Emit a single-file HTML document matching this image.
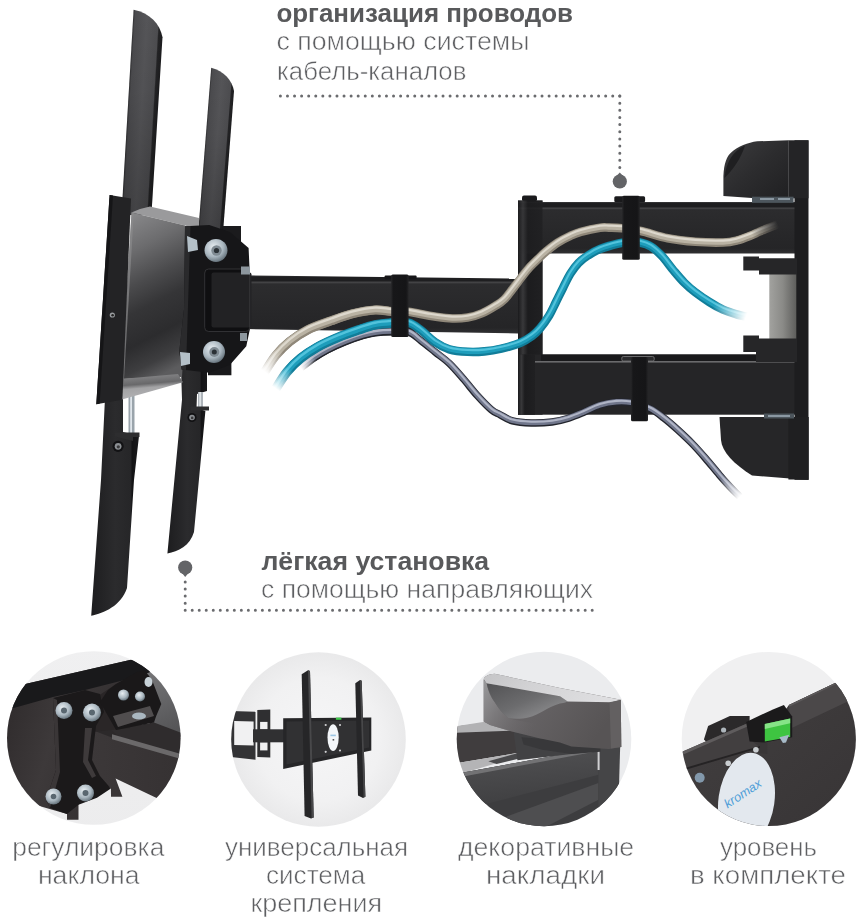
<!DOCTYPE html>
<html lang="ru">
<head>
<meta charset="utf-8">
<title>Кронштейн</title>
<style>
html,body{margin:0;padding:0;background:#fff;}
body{width:866px;height:923px;overflow:hidden;font-family:"Liberation Sans",sans-serif;}
svg{display:block;}
text{font-family:"Liberation Sans",sans-serif;}
</style>
</head>
<body>
<svg width="866" height="923" viewBox="0 0 866 923">
<defs>
  <filter id="noop" x="0" y="0" width="100%" height="100%" filterUnits="userSpaceOnUse" color-interpolation-filters="sRGB"><feOffset dx="0" dy="0"/></filter>
  <linearGradient id="gArm1" x1="0" y1="0" x2="1" y2="0">
    <stop offset="0" stop-color="#2c2c2e"/><stop offset="0.35" stop-color="#444447"/><stop offset="0.8" stop-color="#3a3a3d"/><stop offset="0.88" stop-color="#19191b"/><stop offset="1" stop-color="#141416"/>
  </linearGradient>
  <linearGradient id="gArm1u" gradientUnits="userSpaceOnUse" x1="133.6" y1="9.7" x2="164.25" y2="11.5"><stop offset="0" stop-color="#303032"/><stop offset="0.06" stop-color="#4b4b4e"/><stop offset="0.45" stop-color="#555558"/><stop offset="0.82" stop-color="#4d4d50"/><stop offset="0.86" stop-color="#242426"/><stop offset="1" stop-color="#1c1c1e"/></linearGradient>
  <linearGradient id="gArm2u" gradientUnits="userSpaceOnUse" x1="211.2" y1="67.7" x2="236.6" y2="69.7"><stop offset="0" stop-color="#303032"/><stop offset="0.06" stop-color="#4b4b4e"/><stop offset="0.45" stop-color="#555558"/><stop offset="0.82" stop-color="#4d4d50"/><stop offset="0.86" stop-color="#242426"/><stop offset="1" stop-color="#1c1c1e"/></linearGradient>
  <linearGradient id="gArmShade" gradientUnits="userSpaceOnUse" x1="0" y1="10" x2="0" y2="215"><stop offset="0" stop-color="#000" stop-opacity="0"/><stop offset="0.4" stop-color="#000" stop-opacity="0.04"/><stop offset="1" stop-color="#000" stop-opacity="0.22"/></linearGradient>
  <linearGradient id="gArmShade2" gradientUnits="userSpaceOnUse" x1="0" y1="68" x2="0" y2="232"><stop offset="0" stop-color="#000" stop-opacity="0"/><stop offset="0.4" stop-color="#000" stop-opacity="0.04"/><stop offset="1" stop-color="#000" stop-opacity="0.22"/></linearGradient>
  <linearGradient id="gArmLow" x1="0" y1="0" x2="1" y2="0">
    <stop offset="0" stop-color="#1d1d1f"/><stop offset="0.5" stop-color="#2b2b2d"/><stop offset="0.82" stop-color="#262628"/><stop offset="0.86" stop-color="#131315"/><stop offset="1" stop-color="#19191b"/>
  </linearGradient>
  <linearGradient id="gPlate" x1="0.3" y1="0" x2="0.5" y2="1">
    <stop offset="0" stop-color="#868688"/><stop offset="0.2" stop-color="#6c6c6e"/><stop offset="0.4" stop-color="#4b4b4d"/><stop offset="0.56" stop-color="#353537"/><stop offset="0.75" stop-color="#2c2c2e"/><stop offset="0.9" stop-color="#3e3e40"/><stop offset="1" stop-color="#5c5c5e"/>
  </linearGradient>
  <linearGradient id="gSilver" x1="0.2" y1="0" x2="0.4" y2="1">
    <stop offset="0" stop-color="#8c8c8e"/><stop offset="0.4" stop-color="#68686a"/><stop offset="0.55" stop-color="#a4a4a6"/><stop offset="1" stop-color="#b4b4b6"/>
  </linearGradient>
  <linearGradient id="gStrap" x1="0" y1="0" x2="1" y2="0">
    <stop offset="0" stop-color="#262628"/><stop offset="0.12" stop-color="#171719"/><stop offset="0.85" stop-color="#151517"/><stop offset="1" stop-color="#242426"/>
  </linearGradient>
  <linearGradient id="gHArm" x1="0" y1="0" x2="0" y2="1">
    <stop offset="0" stop-color="#3c3c3e"/><stop offset="0.03" stop-color="#1e1e20"/><stop offset="0.1" stop-color="#1e1e20"/><stop offset="0.115" stop-color="#4a4a4c"/><stop offset="0.15" stop-color="#2c2c2e"/><stop offset="0.9" stop-color="#252527"/><stop offset="1" stop-color="#303032"/>
  </linearGradient>
  <linearGradient id="gPost" x1="0" y1="0" x2="1" y2="0">
    <stop offset="0" stop-color="#1a1a1c"/><stop offset="0.2" stop-color="#38383a"/><stop offset="0.4" stop-color="#1c1c1e"/><stop offset="1" stop-color="#202022"/>
  </linearGradient>
  <linearGradient id="gCap" x1="0" y1="0" x2="1" y2="1">
    <stop offset="0" stop-color="#3c3c3e"/><stop offset="0.5" stop-color="#2c2c2e"/><stop offset="1" stop-color="#202022"/>
  </linearGradient>
  <linearGradient id="gSpacer" x1="0" y1="0" x2="1" y2="0">
    <stop offset="0" stop-color="#a2a29f"/><stop offset="0.5" stop-color="#8a8a87"/><stop offset="1" stop-color="#5e5e5c"/>
  </linearGradient>
  <radialGradient id="gBolt" cx="0.4" cy="0.35" r="0.7">
    <stop offset="0" stop-color="#e8eef2"/><stop offset="0.6" stop-color="#a9b6bf"/><stop offset="1" stop-color="#5d6a73"/>
  </radialGradient>
  <!-- cable fades -->
  <linearGradient id="fadeL" gradientUnits="userSpaceOnUse" x1="268" y1="385" x2="300" y2="345">
    <stop offset="0" stop-color="#000"/><stop offset="1" stop-color="#000" stop-opacity="0"/>
  </linearGradient>
  <linearGradient id="fadeT" gradientUnits="userSpaceOnUse" x1="712" y1="300" x2="748" y2="318">
    <stop offset="0" stop-color="#000" stop-opacity="0"/><stop offset="1" stop-color="#000"/>
  </linearGradient>
  <linearGradient id="fadeG" gradientUnits="userSpaceOnUse" x1="715" y1="462" x2="742" y2="498">
    <stop offset="0" stop-color="#000" stop-opacity="0"/><stop offset="1" stop-color="#000"/>
  </linearGradient>
  <linearGradient id="fadeB" gradientUnits="userSpaceOnUse" x1="750" y1="240" x2="778" y2="224">
    <stop offset="0" stop-color="#000" stop-opacity="0"/><stop offset="1" stop-color="#000"/>
  </linearGradient>
</defs>

<rect width="866" height="923" fill="#fff"/>

<!-- ================= MAIN PHOTO ================= -->
<g id="photo">


<!-- upper arm + post + lower arm -->
<g id="arms">
  <rect x="518" y="200.5" width="24.5" height="214" fill="url(#gPost)"/>
  <rect x="522" y="195.5" width="15" height="6" rx="2" fill="#1a1a1c"/>
  <rect x="518" y="202" width="278" height="51.5" fill="url(#gHArm)"/>
  <rect x="518" y="200.5" width="24.5" height="214" fill="url(#gPost)" opacity="0.85"/>
  <!-- lower arm -->
  <rect x="518" y="354.5" width="278" height="60.2" fill="#252527"/>
  <rect x="541" y="354.5" width="255" height="7" fill="#19191b"/>
  <rect x="535" y="361" width="261" height="1.6" fill="#6a6a6c"/>
  <rect x="518" y="354.5" width="17" height="60.2" fill="url(#gPost)"/>
  <!-- middle arm -->
  <path d="M246,275.3 L518,278.5 L518,333.5 L246,329 Z" fill="url(#gHArm)"/>
</g>

<!-- CABLES -->
<defs>
  <path id="pGray" d="M297.0,371.5 C297.6,370.9 298.0,370.1 300.7,367.9 C303.4,365.7 308.8,361.2 313.2,358.2 C317.6,355.2 321.7,352.7 327.0,349.9 C332.3,347.1 339.1,344.0 345.1,341.6 C351.1,339.2 358.1,336.8 363.1,335.3 C368.1,333.8 370.2,333.2 375.0,332.6 C379.8,332.0 386.4,331.6 392.0,331.5 C397.6,331.4 403.6,330.3 408.5,331.9 C413.4,333.4 416.7,337.4 421.1,340.8 C425.6,344.2 430.5,348.3 435.2,352.1 C439.9,355.9 444.6,358.9 449.3,363.4 C454.0,367.9 458.7,373.5 463.4,378.9 C468.1,384.3 472.8,390.6 477.5,395.8 C482.2,401.0 487.8,406.8 491.5,409.9 C495.2,413.0 496.5,412.9 500.0,414.7 C503.5,416.5 507.3,419.5 512.5,420.9 C517.7,422.3 524.6,422.8 531.2,423.0 C537.8,423.2 545.8,422.8 552.0,422.0 C558.2,421.2 563.4,419.8 568.6,418.2 C573.8,416.6 577.9,414.8 583.1,412.6 C588.3,410.5 594.2,407.0 599.8,405.3 C605.3,403.6 611.2,402.6 616.4,402.2 C621.6,401.8 625.5,401.8 631.0,402.8 C636.5,403.9 644.2,406.0 649.7,408.5 C655.2,411.0 659.2,414.4 663.9,418.0 C668.6,421.6 673.1,425.6 677.7,429.8 C682.3,434.0 687.0,438.3 691.6,443.0 C696.2,447.7 700.8,452.9 705.4,458.2 C710.0,463.5 715.1,469.9 719.3,474.8 C723.5,479.7 727.2,483.8 730.4,487.3 C733.6,490.8 736.4,493.3 738.7,495.6 C741.0,497.9 743.1,500.1 744.0,501.0"/>
  <path id="pTeal" d="M274.0,392.0 C274.3,391.4 273.7,392.0 275.8,388.7 C277.9,385.4 282.8,377.1 286.9,372.0 C291.0,366.9 295.6,362.3 300.7,358.2 C305.8,354.1 311.2,350.6 317.4,347.1 C323.6,343.6 331.2,340.3 338.1,337.4 C345.0,334.5 352.8,331.9 358.9,329.8 C365.0,327.7 369.5,326.0 375.0,324.9 C380.5,323.8 386.4,323.4 392.0,323.0 C397.6,322.6 403.6,321.6 408.5,322.8 C413.4,324.0 416.7,327.1 421.1,330.3 C425.6,333.6 430.5,339.1 435.2,342.3 C439.9,345.5 443.9,347.7 449.3,349.3 C454.7,350.9 461.7,351.5 467.6,351.8 C473.5,352.1 478.9,351.9 484.5,351.4 C490.1,350.9 495.5,350.0 501.4,348.6 C507.3,347.2 514.9,345.1 520.0,343.0 C525.1,340.9 528.7,338.4 532.0,336.0 C535.3,333.6 537.1,331.8 540.0,328.4 C542.9,325.0 546.5,319.8 549.2,315.4 C551.9,311.0 553.7,306.6 556.0,302.0 C558.3,297.4 560.7,292.4 563.1,287.7 C565.5,282.9 567.9,277.6 570.5,273.5 C573.1,269.4 575.6,266.0 578.5,263.0 C581.4,260.0 584.4,257.8 588.0,255.5 C591.6,253.2 594.9,251.0 600.0,249.0 C605.1,247.0 613.4,244.7 618.4,243.5 C623.4,242.3 626.4,242.2 630.0,242.0 C633.6,241.8 636.5,241.7 640.0,242.5 C643.5,243.3 647.4,244.3 651.1,246.6 C654.8,248.9 658.5,252.4 662.2,256.3 C665.9,260.2 669.6,265.8 673.3,270.2 C677.0,274.6 680.6,279.0 684.3,282.7 C688.0,286.4 691.2,289.2 695.4,292.4 C699.6,295.6 704.7,299.1 709.3,302.0 C713.9,304.9 718.5,307.6 723.1,309.7 C727.7,311.8 732.9,313.3 737.0,314.5 C741.1,315.7 746.2,316.6 748.0,317.0"/>
  <path id="pBeige" d="M262.0,376.0 C262.4,375.3 262.4,375.4 264.7,372.0 C267.0,368.6 271.6,360.5 275.8,355.4 C280.0,350.3 284.3,345.9 289.6,341.6 C294.9,337.3 300.8,333.3 307.7,329.8 C314.6,326.3 323.8,323.5 331.2,320.8 C338.6,318.1 344.7,315.7 352.0,313.9 C359.3,312.1 368.3,310.4 375.0,310.0 C381.7,309.6 386.4,311.2 392.0,311.5 C397.6,311.8 402.5,311.1 408.5,311.8 C414.5,312.5 421.4,314.4 428.2,315.5 C435.0,316.6 442.7,317.9 449.3,318.3 C455.9,318.7 462.2,318.4 467.6,317.6 C473.0,316.8 477.0,315.4 481.7,313.4 C486.4,311.4 492.1,307.9 495.8,305.6 C499.6,303.3 501.3,302.4 504.2,299.5 C507.1,296.6 510.2,292.1 513.0,288.5 C515.8,284.9 518.4,281.4 521.0,278.0 C523.6,274.6 526.0,271.3 528.9,268.1 C531.8,264.9 535.2,261.7 538.1,258.9 C541.0,256.1 542.9,254.1 546.2,251.4 C549.5,248.7 553.9,245.2 557.7,242.7 C561.6,240.2 565.4,238.2 569.3,236.4 C573.1,234.6 575.7,233.2 580.8,231.8 C585.9,230.4 595.3,228.4 600.0,227.7 C604.7,227.0 605.3,227.5 609.0,227.6 C612.7,227.7 616.7,227.6 622.0,228.2 C627.3,228.8 633.4,229.3 641.0,231.0 C648.6,232.7 658.6,236.5 667.7,238.3 C676.8,240.1 686.2,241.1 695.4,241.8 C704.6,242.5 716.2,242.7 723.1,242.5 C730.0,242.3 732.4,241.6 737.0,240.4 C741.6,239.2 747.0,237.0 750.8,235.5 C754.6,234.0 756.0,233.1 760.0,231.4 C764.0,229.7 771.7,226.8 775.0,225.4 C778.3,224.0 779.2,223.4 780.0,223.0"/>
  <clipPath id="clipThick"><rect x="240" y="290" width="160" height="120"/></clipPath>
  <linearGradient id="fGrayL" gradientUnits="userSpaceOnUse" x1="300.7" y1="367.9" x2="314.6" y2="356.8"><stop offset="0" stop-color="#000"/><stop offset="1" stop-color="#000" stop-opacity="0"/></linearGradient>
  <linearGradient id="fGrayR" gradientUnits="userSpaceOnUse" x1="740" y1="497" x2="722" y2="477"><stop offset="0" stop-color="#000"/><stop offset="1" stop-color="#000" stop-opacity="0"/></linearGradient>
  <linearGradient id="fTealL" gradientUnits="userSpaceOnUse" x1="275.8" y1="388.7" x2="290" y2="368.5"><stop offset="0" stop-color="#000"/><stop offset="1" stop-color="#000" stop-opacity="0"/></linearGradient>
  <linearGradient id="fTealR" gradientUnits="userSpaceOnUse" x1="746" y1="317" x2="714" y2="304.5"><stop offset="0" stop-color="#000"/><stop offset="1" stop-color="#000" stop-opacity="0"/></linearGradient>
  <linearGradient id="fBeigeL" gradientUnits="userSpaceOnUse" x1="264.7" y1="372" x2="280" y2="350"><stop offset="0" stop-color="#000"/><stop offset="1" stop-color="#000" stop-opacity="0"/></linearGradient>
  <linearGradient id="fBeigeR" gradientUnits="userSpaceOnUse" x1="778" y1="224" x2="752" y2="235"><stop offset="0" stop-color="#000"/><stop offset="1" stop-color="#000" stop-opacity="0"/></linearGradient>
  <mask id="mGray" maskUnits="userSpaceOnUse" x="0" y="0" width="866" height="923"><rect width="866" height="923" fill="#fff"/><rect x="280" y="350" width="40" height="40" fill="url(#fGrayL)"/><rect x="700" y="455" width="70" height="70" fill="url(#fGrayR)"/></mask>
  <mask id="mTeal" maskUnits="userSpaceOnUse" x="0" y="0" width="866" height="923"><rect width="866" height="923" fill="#fff"/><rect x="255" y="355" width="45" height="50" fill="url(#fTealL)"/><rect x="700" y="290" width="70" height="45" fill="url(#fTealR)"/></mask>
  <mask id="mBeige" maskUnits="userSpaceOnUse" x="0" y="0" width="866" height="923"><rect width="866" height="923" fill="#fff"/><rect x="245" y="340" width="45" height="50" fill="url(#fBeigeL)"/><rect x="745" y="205" width="50" height="45" fill="url(#fBeigeR)"/></mask>
</defs>
<g id="cables" fill="none" stroke-linecap="butt" stroke-linejoin="round">
  <g mask="url(#mGray)">
  <use href="#pGray" stroke="#23252d" stroke-width="7.4"/>
  <use href="#pGray" stroke="#70768b" stroke-width="5.4" transform="translate(0,-0.4)"/>
  <use href="#pGray" stroke="#b0b5c6" stroke-width="2.1" transform="translate(0,-1.3)"/>
  <g clip-path="url(#clipThick)">
  <use href="#pGray" stroke="#23252d" stroke-width="7.8"/>
  <use href="#pGray" stroke="#70768b" stroke-width="5.7" transform="translate(0,-0.5)"/>
  <use href="#pGray" stroke="#b0b5c6" stroke-width="2.3" transform="translate(0,-1.6)"/>
  </g>
  </g>
  <g mask="url(#mTeal)">
  <use href="#pTeal" stroke="#117d99" stroke-width="8.6"/>
  <use href="#pTeal" stroke="#1e9dbb" stroke-width="5.8" transform="translate(0,-0.8)"/>
  <use href="#pTeal" stroke="#52c3dc" stroke-width="2.1" transform="translate(0,-1.8)"/>
  <g clip-path="url(#clipThick)">
  <use href="#pTeal" stroke="#117d99" stroke-width="9.6"/>
  <use href="#pTeal" stroke="#1e9dbb" stroke-width="6.5" transform="translate(0,-1.0)"/>
  <use href="#pTeal" stroke="#52c3dc" stroke-width="2.4" transform="translate(0,-2.2)"/>
  </g>
  </g>
  <g mask="url(#mBeige)">
  <use href="#pBeige" stroke="#8f8779" stroke-width="8.6"/>
  <use href="#pBeige" stroke="#b9b2a3" stroke-width="5.9" transform="translate(0,-0.8)"/>
  <use href="#pBeige" stroke="#ddd8cd" stroke-width="2.1" transform="translate(0,-1.9)"/>
  <g clip-path="url(#clipThick)">
  <use href="#pBeige" stroke="#8f8779" stroke-width="9.2"/>
  <use href="#pBeige" stroke="#b9b2a3" stroke-width="6.4" transform="translate(0,-1.0)"/>
  <use href="#pBeige" stroke="#ddd8cd" stroke-width="2.3" transform="translate(0,-2.3)"/>
  </g>
  </g>
</g>
<!-- re-draw bits that sit in front of cables -->
<g id="straps">
  <rect x="384.6" y="275.6" width="32" height="3.6" rx="1" fill="#161618"/>
  <rect x="614.3" y="196.2" width="30.8" height="6" rx="1.5" fill="#1a1a1c"/>
  <rect x="621.8" y="356.5" width="32.4" height="4.6" rx="1.5" fill="#2a2a2c" stroke="#7d7d7f" stroke-width="0.8"/>
  <rect x="391.2" y="274.5" width="17.4" height="62.4" rx="1.5" fill="url(#gStrap)"/>
  <rect x="622.2" y="195.8" width="17.6" height="64" rx="1.5" fill="url(#gStrap)"/>
  <rect x="631" y="357" width="17" height="64.3" rx="1.5" fill="url(#gStrap)"/>
</g>

<!-- wall plate & caps (right) -->
<g id="wall">
  <rect x="794.5" y="140.3" width="14" height="339.5" fill="#1d1d1f"/>
  <rect x="788.4" y="140.3" width="20.1" height="58" fill="#242426"/>
  <path d="M723.4,196 L723.4,176 C724,163 727,156 731.2,152.5 C738,146.5 748,142.6 757.2,141.3 L788.6,140.3 L788.6,198 L752,198 Z" fill="url(#gCap)"/>
  <path d="M745,145.5 C733,151 726,162 724.5,178 C733,170 741,158 745,145.5 Z" fill="#1f1f21"/>
  <rect x="752" y="196.7" width="41.6" height="6.1" fill="#4d565d"/>
  <rect x="760" y="198" width="14" height="2" fill="#8b98a2"/>
  <rect x="778" y="198" width="12" height="2" fill="#8b98a2"/>
  <!-- lower bracket tabs + spacer -->
  <rect x="769.3" y="270" width="27" height="70" fill="url(#gSpacer)"/>
  <path d="M743.3,256.5 H759 V258.2 H797 V274.5 H759 V270.4 H743.3 Z" fill="#262628"/>
  <path d="M743.3,335.5 H759 V338.5 H797 V362 H756 V352 H743.3 Z" fill="#262628"/>
  <!-- bottom cap -->
  <path d="M719.5,417 L808.5,417 L808.5,480 L752,475.5 C734,464 722,452 721,440 Z" fill="#262628"/>
  <rect x="788.4" y="417" width="20.1" height="62.5" fill="#1f1f21"/>
  <rect x="764" y="413.5" width="30" height="5" fill="#4d565d"/>
  <rect x="768" y="415" width="22" height="2" fill="#8b98a2"/>
</g>

<!-- LEFT ASSEMBLY -->
<g id="left">
  <!-- arm 1 upper -->
  <path d="M133.6,9.7 C150,13 160,24 162.5,37.2 L151.4,215 L121.5,215 Z" fill="url(#gArm1u)"/>
  <path d="M133.6,9.7 C150,13 160,24 162.5,37.2 L151.4,215 L121.5,215 Z" fill="url(#gArmShade)"/>
  <!-- arm 2 upper -->
  <path d="M211.2,67.7 C224,71 232,80 234,91 L223,232 L198.2,232 Z" fill="url(#gArm2u)"/>
  <path d="M211.2,67.7 C224,71 232,80 234,91 L223,232 L198.2,232 Z" fill="url(#gArmShade2)"/>
  <!-- arm 1 lower -->
  <path d="M105,398 L123,398 L123,432 L139,436 L134,480 L127,588 C121,606 104,613 91.2,615.8 L101,480 Z" fill="url(#gArmLow)"/>
  <rect x="128.5" y="388" width="6" height="45" fill="#9aa4ab"/>
  <rect x="130.2" y="388" width="1.8" height="45" fill="#dfe5ea"/>
  <path d="M115,432.5 L139.5,432.5 L139.5,437 L133,437 L133,441 L115,436.5 Z" fill="#2d2d2f"/>
  <circle cx="118.1" cy="446.3" r="5.6" fill="#121214"/><circle cx="118.1" cy="446.3" r="3.4" fill="#8b8f93"/><circle cx="118.3" cy="446.8" r="1.6" fill="#3a3a3c"/>
  <!-- arm 2 lower -->
  <path d="M181,368 L207,368 L207,391 L197,394 L196.5,408 L205.4,411 L194,532 C190,546 178,551.5 167.4,553.4 L182,399.7 Z" fill="url(#gArmLow)"/>
  <rect x="198" y="392" width="5" height="16" fill="#aeb4ba"/>
  <rect x="199.3" y="392" width="1.6" height="16" fill="#e4e8ec"/>
  <path d="M190.5,406.5 L209,406.5 L209,410.5 L190.5,410.5 Z" fill="#2d2d2f"/>
  <circle cx="192" cy="417.5" r="4.6" fill="#121214"/><circle cx="192" cy="417.5" r="2.8" fill="#8b8f93"/><circle cx="192.2" cy="417.9" r="1.3" fill="#3a3a3c"/>
  <!-- plate -->
  <path d="M140,209 L150,206.5 L199,218 L199,229 L185,225.5 L131.5,212.5 Z" fill="#9a9a9c"/>
  <path d="M131.5,212.5 L185,225.5 L186,309 L182,377 L121.5,379 Z" fill="url(#gPlate)"/>
  <path d="M131.5,212.5 L133.8,213 L124,379 L121.5,379 Z" fill="#8a8a8c" opacity="0.7"/>
  <path d="M121,379 L178,374 L183,382.2 L120.2,400 Z" fill="url(#gSilver)"/>
  <!-- black frame -->
  <path d="M109.6,195 L131,198.5 L122.4,399.7 L96.3,404.3 Z" fill="#232325"/>
  <path d="M109.6,195 L113,195.6 L99.6,403.7 L96.3,404.3 Z" fill="#151517"/>
  <circle cx="112.3" cy="315" r="2.6" fill="#9a9da0"/><circle cx="112.6" cy="315.2" r="1.3" fill="#222"/>
  <!-- bracket -->
  <path d="M222.5,226 L241,226 L241,246 L222.5,236 Z" fill="#1b1b1d"/>
  <path d="M208,368 L231.4,361 L231.4,375.3 L208,375.3 Z" fill="#19191b"/>
  <path d="M185,226.2 L209.3,225 L230,232 L248.6,248 L249.7,272.4 L249.7,330 L246.3,346.3 L230,364.8 L209.3,372.8 L181.6,369.4 L179.3,351 L184,309.3 Z" fill="#161618"/>
  <path d="M185,226.2 L190.5,226 L186,369.9 L181.6,369.4 L179.3,351 L184,309.3 Z" fill="#2a2a2c"/>
  <rect x="204.7" y="269" width="45" height="62.5" rx="4" fill="#0f0f11"/>
  <rect x="211.5" y="272.5" width="40" height="55" rx="2" fill="#222224"/>
  <rect x="204.7" y="269" width="45" height="62.5" rx="4" fill="none" stroke="#3a3a3c" stroke-width="0.8"/>
  <rect x="241" y="266.5" width="9" height="8" fill="#8d979e"/>
  <rect x="240" y="333" width="7" height="8" fill="#8d979e"/>
  <!-- bolts -->
  <circle cx="216" cy="250.4" r="11.5" fill="url(#gBolt)"/><circle cx="216.5" cy="250.5" r="5.2" fill="#7f8a92"/><circle cx="216.5" cy="250.5" r="2.6" fill="#2b3136"/>
  <circle cx="214" cy="352" r="11" fill="url(#gBolt)"/><circle cx="214.3" cy="352" r="5" fill="#7f8a92"/><circle cx="214.3" cy="352" r="2.5" fill="#2b3136"/>
  <path d="M187,236 L197,240 L198,250 L188,252 Z" fill="#b4c0c8"/>
  <path d="M180,352 L190,353 L190,364 L181,366 Z" fill="#b4c0c8"/>
</g>

</g>

<!-- ================= CALLOUTS ================= -->
<g id="callouts" fill="#6d6e71">
  <g id="dots1" fill="none" stroke="#6a6b6e" stroke-width="3" stroke-linecap="round">
    <path d="M280.4,96 L619.8,96" stroke-dasharray="0 7.0708"/>
    <path d="M619.8,96 L619.8,168" stroke-dasharray="0 7.15"/>
    <path d="M185.2,581.9 L185.2,610.2" stroke-dasharray="0 7.075"/>
    <path d="M185.2,610.2 L592.2,610.2" stroke-dasharray="0 7.0172"/>
  </g>
  <circle cx="619.8" cy="181.5" r="7.1" fill="#636467"/>
  <path d="M616.3,176.2 L619.8,172.6 L623.3,176.2 Z" fill="#636467"/>
  <circle cx="185.2" cy="567.5" r="7.1" fill="#636467"/>
  <path d="M182,573 L185.2,577 L188.4,573 Z" fill="#636467"/>
</g>

<!-- ================= DETAIL CIRCLES ================= -->
<defs>
  <clipPath id="c1"><circle cx="93.8" cy="738" r="86.8"/></clipPath>
  <clipPath id="c2"><circle cx="318.5" cy="739.5" r="87.3"/></clipPath>
  <clipPath id="c3"><circle cx="544" cy="739" r="87.3"/></clipPath>
  <clipPath id="c4"><circle cx="768.8" cy="739" r="87.1"/></clipPath>
  <radialGradient id="gCirc2" gradientUnits="userSpaceOnUse" cx="318.5" cy="739.5" r="88">
    <stop offset="0" stop-color="#f6f6f7"/><stop offset="0.7" stop-color="#f1f1f2"/><stop offset="1" stop-color="#e9e9ea"/>
  </radialGradient>
  <linearGradient id="g1arm" x1="0" y1="0" x2="1" y2="0">
    <stop offset="0" stop-color="#3c3839"/><stop offset="1" stop-color="#353132"/>
  </linearGradient>
  <linearGradient id="g1wall" x1="0" y1="0" x2="0.3" y2="1">
    <stop offset="0" stop-color="#7e7e80"/><stop offset="1" stop-color="#555557"/>
  </linearGradient>
  <linearGradient id="gCirc1" x1="0" y1="0" x2="0" y2="1">
    <stop offset="0" stop-color="#f0f0f1"/><stop offset="1" stop-color="#ececed"/>
  </linearGradient>
  <linearGradient id="g1bg" x1="0" y1="0" x2="1" y2="0.3">
    <stop offset="0" stop-color="#2b2728"/><stop offset="0.45" stop-color="#3d393a"/><stop offset="1" stop-color="#2f2b2c"/>
  </linearGradient>
  <linearGradient id="g3cap" x1="0" y1="0" x2="1" y2="0.2">
    <stop offset="0" stop-color="#c4c4c6"/><stop offset="0.4" stop-color="#d2d2d4"/><stop offset="1" stop-color="#dedee0"/>
  </linearGradient>
  <linearGradient id="g3face" x1="0" y1="0" x2="1" y2="0.4">
    <stop offset="0" stop-color="#767476"/><stop offset="0.4" stop-color="#676466"/><stop offset="1" stop-color="#575455"/>
  </linearGradient>
  <linearGradient id="g3lit" x1="0" y1="0" x2="1" y2="0.5">
    <stop offset="0" stop-color="#9a9a9c"/><stop offset="0.35" stop-color="#7c7a7c" stop-opacity="0.9"/><stop offset="0.85" stop-color="#676466" stop-opacity="0"/><stop offset="1" stop-color="#676466" stop-opacity="0"/>
  </linearGradient>
  <linearGradient id="g3scoop" x1="0" y1="0" x2="1" y2="1">
    <stop offset="0" stop-color="#525254"/><stop offset="0.5" stop-color="#6c6c6e"/><stop offset="1" stop-color="#9a9a9c"/>
  </linearGradient>
  <linearGradient id="g3arm" x1="0" y1="0" x2="0.2" y2="1">
    <stop offset="0" stop-color="#525254"/><stop offset="1" stop-color="#404042"/>
  </linearGradient>
  <linearGradient id="g4plate" x1="0" y1="0" x2="1" y2="1">
    <stop offset="0" stop-color="#434041"/><stop offset="1" stop-color="#373435"/>
  </linearGradient>
</defs>

<!-- circle 1 -->
<g clip-path="url(#c1)">
  <rect x="0" y="640" width="190" height="200" fill="url(#gCirc1)"/>
  <!-- gray wall to the right of back bracket -->
  <path d="M138,656 L190,656 L190,740 L150,725 L150,680 Z" fill="url(#g1wall)"/>
  <!-- arm -->
  <path d="M90,722 L128,722 L128,744 L90,744 Z" fill="#2c292a"/>
  <path d="M110,729 L154,722.6 L190,736 L190,760 L124,741 Z" fill="#2f2c2d"/>
  <path d="M113,738 L190,760 L190,810 L156.1,797.7 L115.6,778.5 L122.4,796.7 L111,796.7 L110.9,788.6 L96,776 L88,760 L92,730 Z" fill="url(#g1arm)"/>
  <path d="M112,734.2 L190,756.5 L190,761.5 L112,739.2 Z" fill="#6b696a"/>
  <path d="M85,688 L120,680 L130,728 L92,732 Z" fill="#2a2627"/>
  <!-- dark main body (left plate) -->
  <path d="M0,690 L23,684.6 L138.6,658 L150,672 L116,684 L92,700 L92,760 L78.5,804.7 L78.5,819.8 L67,819.8 L67,814 L39.3,805.9 L0,790 Z" fill="url(#g1bg)"/>
  <!-- black top bar -->
  <path d="M0,690 L23,684.6 L138.6,658 L150,672 L140,676 L85,690 L53,697 L10,709 L0,712 Z" fill="#19191b"/>
  <!-- bracket -->
  <path d="M53,698 L85,690 L100,694 L104,712 L96,726 L92,760 L100,776 L110.9,788.6 L97,797.8 L78.5,804.7 L67,814 L50,808 L46,800 L56,770 Z" fill="#1b191a"/>
  <path d="M53,698 L56,770 L46,800 L50,808 L60,772 L57,700 Z" fill="#3a3637"/>
  <path d="M85,728 L92,728 L88,760 L96,776 L92,778 L83,762 Z" fill="#3e3a3b"/>
  <!-- back bracket -->
  <path d="M116,684 L137,672 L145,670.5 L152,680 L161.3,703.9 L156.1,716.3 L154,722.6 L116,730 L100,702 L108,690 Z" fill="#1a1819"/>
  <path d="M113,716 L150,706 L154,716 L118,727 Z" fill="#504d4e"/>
  <!-- bolts -->
  <circle cx="64" cy="710.5" r="8.5" fill="url(#gBolt)"/><circle cx="64" cy="710.5" r="3" fill="#5a6770"/>
  <circle cx="92" cy="712.5" r="9" fill="url(#gBolt)"/><circle cx="92" cy="712.5" r="3" fill="#5a6770"/>
  <circle cx="53.5" cy="796.5" r="8" fill="url(#gBolt)"/><circle cx="53.5" cy="796.5" r="2.8" fill="#5a6770"/>
  <circle cx="85.5" cy="793" r="8.5" fill="url(#gBolt)"/><circle cx="85.5" cy="793" r="3" fill="#5a6770"/>
  <circle cx="123.5" cy="695" r="5.5" fill="url(#gBolt)"/>
  <circle cx="140" cy="696.5" r="5" fill="url(#gBolt)"/>
  <ellipse cx="139" cy="716" rx="7" ry="3.6" fill="#aab7c0"/>
  <ellipse cx="148.5" cy="682" rx="4" ry="5" fill="#c8d2d8"/>
</g>

<!-- circle 2 -->
<g clip-path="url(#c2)">
  <rect x="225" y="645" width="190" height="190" fill="url(#gCirc2)"/>
  <!-- arm (left) -->
  <path d="M231,711 L255.5,711.8 L255.5,759.8 L231,757 Z" fill="#333335"/>
  <path d="M234.2,721 L253.6,721.5 L253.6,745.5 L234.2,745 Z" fill="#f1f1f2"/>
  <path d="M257.3,710 L270.3,709.5 L270.3,757.5 L257.3,757 Z" fill="#2f2f31"/>
  <rect x="260.1" y="721.9" width="7.4" height="7.4" fill="#f1f1f2"/>
  <rect x="260.1" y="742.4" width="7.4" height="8" fill="#f1f1f2"/>
  <rect x="253" y="729.3" width="31" height="13" fill="#303032"/>
  <!-- main plate -->
  <path d="M283.2,718.2 L371.3,717.4 L371.3,750.5 L283.2,769 Z" fill="#262628"/>
  <path d="M286.5,721.5 L369,720.6 L369,747.5 L286.5,764.5 Z" fill="#313133"/>
  <!-- vertical bars -->
  <path d="M301.7,674.2 L308,670.3 L310,671 L313.7,817.5 L311,818.5 L304.6,816 Z" fill="#262628"/>
  <path d="M308,670.3 L310,671 L313.7,817.5 L311.6,818.2 Z" fill="#48484a"/>
  <path d="M355.3,683.3 L360,680 L361.7,680.7 L365.4,796.8 L363,798 L358,795.5 Z" fill="#262628"/>
  <path d="M360,680 L361.7,680.7 L365.4,796.8 L363.6,797.6 Z" fill="#48484a"/>
  <!-- vesa disc -->
  <ellipse cx="333.1" cy="737.6" rx="5.6" ry="13.3" fill="#f3f6f9"/>
  <rect x="330.4" y="734.6" width="5.4" height="1.6" fill="#9cc6e4"/>
  <rect x="332.6" y="739" width="1.6" height="1.6" fill="#555"/>
  <circle cx="325.7" cy="725" r="1.1" fill="#d0d0d2"/><circle cx="340" cy="725" r="1.1" fill="#d0d0d2"/>
  <circle cx="325.7" cy="751.8" r="1.1" fill="#d0d0d2"/><circle cx="340" cy="750.5" r="1.1" fill="#d0d0d2"/>
  <rect x="335.9" y="717.6" width="5.5" height="2.2" fill="#3fc94c"/>
</g>

<!-- circle 3 -->
<g clip-path="url(#c3)">
  <rect x="450" y="645" width="190" height="190" fill="#ebecee"/>
  <!-- back arm -->
  <path d="M455.0,726.5 L486.2,722.7 L517.4,729.0 L517.4,752.9 L455.0,763.3 Z" fill="#403d3e"/>
  <path d="M455.0,726.5 L486.2,721.5 L517.4,728.6 L517.4,730.6 L455.0,732.7 Z" fill="#b2b2b4"/>
  <!-- gap between arms -->
  <path d="M455.0,763.3 L517.4,752.9 L517.4,758.1 L496.6,763.3 L463.3,773.1 L455.0,774.7 Z" fill="#b4b4b6"/>
  <path d="M488.3,761.2 L517.4,753.3 L521.5,758.1 L496.6,763.9 Z" fill="#4a4a4c"/>
  <!-- lower dark area -->
  <path d="M463.3,772.6 L598.4,747.7 L619.2,747.7 L619.2,830.8 L463.3,830.8 Z" fill="#3d3d3f"/>
  <path d="M507.0,816.3 L598.4,783.0 L598.4,799.7 L538.1,830.8 L507.0,830.8 Z" fill="#4e4e50"/>
  <!-- front arm -->
  <path d="M463.3,772.6 L598.4,747.7 L598.4,774.7 L482.0,804.9 L467.5,783.0 Z" fill="url(#g3arm)"/>
  <path d="M463.3,772.6 L598.4,747.7 L598.4,751.0 L464.6,776.2 Z" fill="#727274"/>
  <!-- wall side -->
  <path d="M598.4,746.7 L620.2,746.7 L617.1,830.8 L598.4,830.8 Z" fill="#454547"/>
  <rect x="597.6" y="748" width="2" height="22" fill="#d0d0d2"/>
  <rect x="516.6" y="737" width="1.8" height="9" fill="#d0d0d2"/>
  <path d="M513.2,729.0 L600.5,741.5 L599.5,750.8 L517.4,760.2 Z" fill="#424244"/>
  <!-- neck shadow under cap -->
  <path d="M521.5,737.3 L600.5,743.5 L600.5,751.8 L571.4,753.9 L542.3,749.8 L523.6,744.6 Z" fill="#38383a"/>
  <!-- cap -->
  <path d="M483.7,679 C484.5,676 489,674.2 494.6,673.7 L560,688.1 L620.8,699.7 L621.3,747 L608.8,748.9 L571.4,746.5 L560,742.4 L538.1,738 L510,731 L490,725 L483.7,721.6 Z" fill="url(#g3face)"/>
  <!-- lit left corner -->
  <path d="M483.7,680 L486.6,683 C488,692 492,699 494.6,702 C499,709 503,714 508.5,718.1 C520,722 540,724 560,726 L560,742.4 L538.1,738 L510,731 L490,725 L483.7,721.6 Z" fill="url(#g3lit)"/>
  <!-- scoop -->
  <path d="M486.6,683.2 L560,696.2 L567.7,701.4 C564,703 562,703 560,703.4 C548,707 538,715 529.3,717.2 C522,719 514,719 508.5,718.1 C503,714 499,709 494.6,702 C491,697 488,690 486.6,683.2 Z" fill="url(#g3scoop)"/>
  <!-- top surface (light) -->
  <path d="M483.7,679 C484.5,676 489,674.2 494.6,673.7 L560,688.1 L620.8,699.7 L611.6,702.2 L567.7,701.4 L560,696.2 L486.6,683.2 Z" fill="url(#g3cap)"/>
  <!-- right chamfer -->
  <path d="M609.5,702.3 L620.8,699.9 L621.3,747 L611,748.5 Z" fill="#636061"/>
</g>

<!-- circle 4 -->
<g clip-path="url(#c4)">
  <rect x="675" y="645" width="190" height="190" fill="#f0f0f1"/>
  <!-- hinge shapes behind -->
  <path d="M703.9,739.4 L708.1,725.9 L729.9,716.1 L749.6,716.1 L749.6,723.2 L707.0,742.5 Z" fill="#2b292a"/>
  <circle cx="723.6" cy="730.0" r="2.6" fill="#aeb6bc"/>
  <!-- dark plate -->
  <path d="M680.0,770.1 L759.0,747.3 L788.9,705.1 L835.1,683.0 L862.9,669.7 L862.9,832.9 L680.0,832.9 Z" fill="url(#g4plate)"/>
  <path d="M788.9,705.1 L835.1,683.0 L862.9,669.7 L862.9,694.5 L847.7,701.5 L791.2,728.2 Z" fill="#4b4849"/>
  <path d="M788.9,705.1 L835.1,683.0 L862.9,669.7 L862.9,671.0 L835.9,684.3 L789.3,706.7 Z" fill="#5c595a"/>
  <path d="M748.6,737.3 L767.3,739.4 L767.3,753.9 L750.7,751.8 Z" fill="#393637"/>
  <!-- bar (left of level) -->
  <path d="M680.0,752.7 L748.6,722.7 L752.7,741.5 L760.0,747.3 L680.0,771.0 Z" fill="#423f40"/>
  <path d="M680.0,752.7 L748.6,722.7 L749.2,725.7 L680.0,756.0 Z" fill="#5f5c5d"/>
  <path d="M680.0,769.3 L760.0,746.0 L760.0,747.7 L680.0,771.4 Z" fill="#252324"/>
  <!-- white disc -->
  <ellipse cx="746.5" cy="800" rx="28" ry="47.5" transform="rotate(8 746.5 800)" fill="#e3e8ee"/>
  <text x="727.5" y="808.5" font-size="12.5" font-style="italic" fill="#4f9fd8" transform="rotate(-33 727.5 808.5)" stroke="none" textLength="42" lengthAdjust="spacingAndGlyphs">kromax</text>
  <!-- level -->
  <path d="M746.1,721.9 L773.5,709.2 L783.9,705.1 L792.2,716.5 L792.2,737.3 L764.2,742.5 L749.6,741.5 Z" fill="#1b1a1b"/>
  <path d="M764.8,724.0 L790.2,718.6 L790.2,736.9 L764.8,741.5 Z" fill="#3ec441"/>
  <path d="M764.8,724.0 L790.2,718.6 L790.2,723.2 L764.8,729.0 Z" fill="#86e487"/>
  <path d="M779.4,737.3 L789.1,734.8 L786.0,742.5 L782.9,743.1 Z" fill="#a7bac8"/>
  <circle cx="728.2" cy="763.3" r="2.8" fill="#c9cdd0"/>
  <circle cx="755.9" cy="749.8" r="2.8" fill="#c9cdd0"/>
  <circle cx="699.7" cy="777.8" r="5" fill="#8298ab"/>
</g>

<g id="txt" fill="#5e5f62" font-size="26" stroke="#fff" stroke-width="0.55" filter="url(#noop)">
  <text x="276.4" y="22.2" font-weight="bold" fill="#58595b" stroke="none" textLength="296.7" lengthAdjust="spacingAndGlyphs">организация проводов</text>
  <text x="276.4" y="50.4" textLength="253.0" lengthAdjust="spacingAndGlyphs">с помощью системы</text>
  <text x="277.0" y="79.5" textLength="189.4" lengthAdjust="spacingAndGlyphs">кабель-каналов</text>
  <text x="261.4" y="570.2" font-weight="bold" fill="#58595b" stroke="none" textLength="227.8" lengthAdjust="spacingAndGlyphs">лёгкая установка</text>
  <text x="261.0" y="598.2" textLength="332.0" lengthAdjust="spacingAndGlyphs">с помощью направляющих</text>
  <text x="12.2" y="855.5" textLength="152.2" lengthAdjust="spacingAndGlyphs">регулировка</text>
  <text x="37.9" y="883.5" textLength="101.7" lengthAdjust="spacingAndGlyphs">наклона</text>
  <text x="225.0" y="855.5" textLength="183.1" lengthAdjust="spacingAndGlyphs">универсальная</text>
  <text x="266.0" y="883.5" textLength="99.2" lengthAdjust="spacingAndGlyphs">система</text>
  <text x="250.4" y="911.6" textLength="131.7" lengthAdjust="spacingAndGlyphs">крепления</text>
  <text x="458.0" y="855.5" textLength="176.1" lengthAdjust="spacingAndGlyphs">декоративные</text>
  <text x="485.9" y="883.5" textLength="119.1" lengthAdjust="spacingAndGlyphs">накладки</text>
  <text x="720.0" y="855.5" textLength="97.0" lengthAdjust="spacingAndGlyphs">уровень</text>
  <text x="689.9" y="883.5" textLength="156.1" lengthAdjust="spacingAndGlyphs">в комплекте</text>
</g>
</svg>
</body>
</html>
